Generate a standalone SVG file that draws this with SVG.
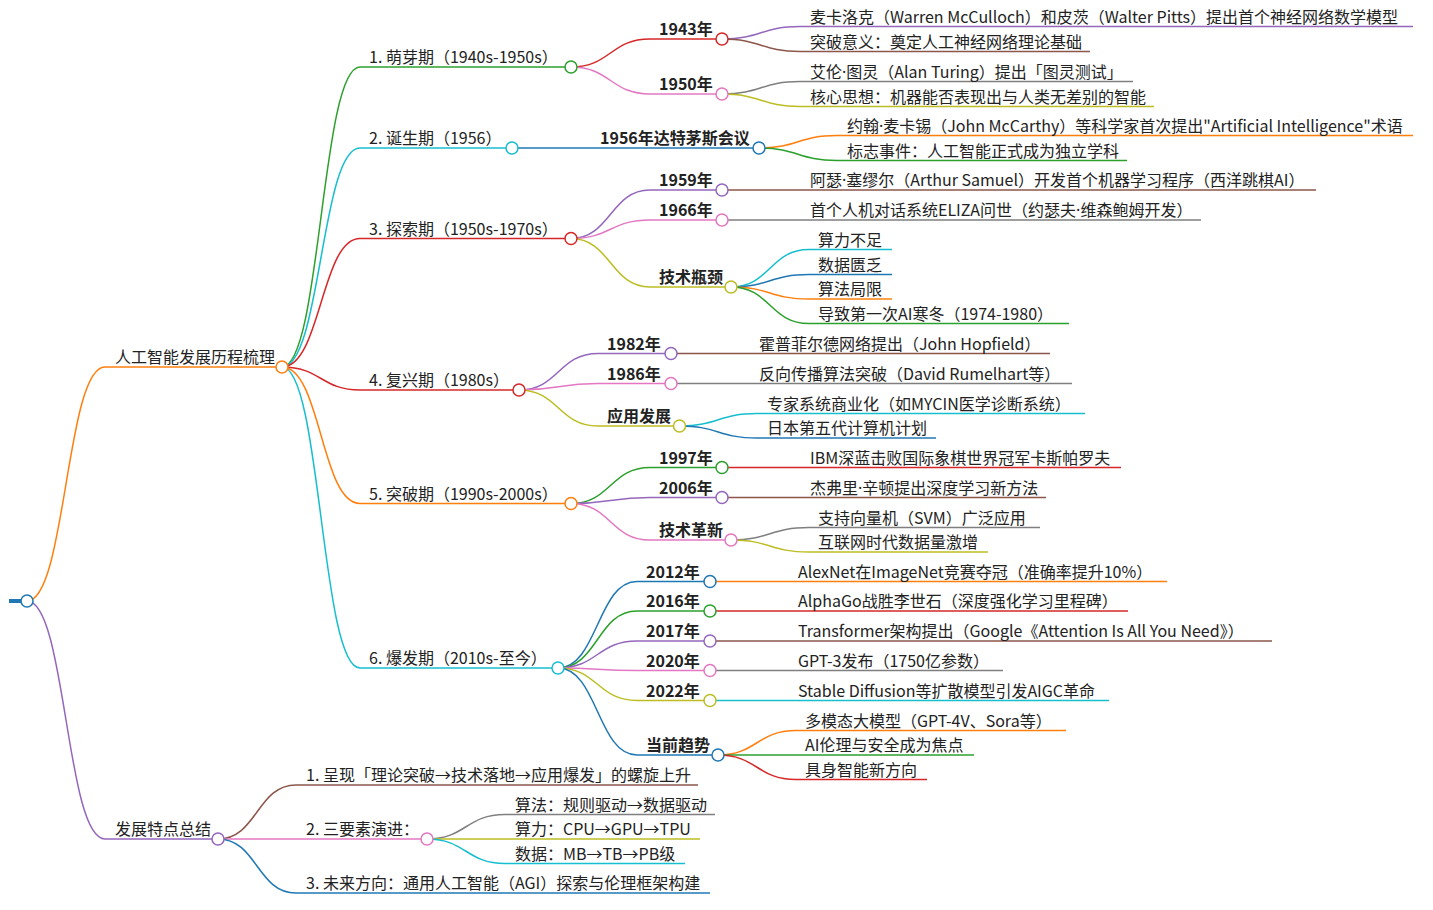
<svg xmlns="http://www.w3.org/2000/svg" width="1433" height="910" viewBox="0 0 1433 910">
<style>
.t{font-family:'Noto Sans CJK SC','Noto Sans',sans-serif;font-size:16px;fill:#222}
.d{font-family:'Noto Sans','Liberation Sans',sans-serif}
.b{font-weight:bold}
.l{fill:none;stroke-width:1.5}
.c{fill:#fff;stroke-width:1.5}
.blue{stroke:#1f77b4}.orange{stroke:#ff7f0e}.green{stroke:#2ca02c}.red{stroke:#d62728}.purple{stroke:#9467bd}
.brown{stroke:#8c564b}.pink{stroke:#e377c2}.gray{stroke:#7f7f7f}.olive{stroke:#bcbd22}.cyan{stroke:#17becf}
</style>
<rect width="1433" height="910" fill="#fff"/>
<g id="connectors">
<path class="l orange" d="M27,601 C66,601 66,367 105,367"/>
<path class="l purple" d="M27,601 C66,601 66,839 105,839"/>
<path class="l green" d="M282,367 C321,367 321,67 360,67"/>
<path class="l cyan" d="M282,367 C321,367 321,148 360,148"/>
<path class="l red" d="M282,367 C321,367 321,238.5 360,238.5"/>
<path class="l red" d="M282,367 C321,367 321,390 360,390"/>
<path class="l orange" d="M282,367 C321,367 321,503.5 360,503.5"/>
<path class="l cyan" d="M282,367 C321,367 321,668 360,668"/>
<path class="l red" d="M571,67 C610.5,67 610.5,39 650,39"/>
<path class="l pink" d="M571,67 C610.5,67 610.5,94 650,94"/>
<path class="l purple" d="M722,39 C761,39 761,26.5 800,26.5"/>
<path class="l brown" d="M722,39 C761,39 761,51.5 800,51.5"/>
<path class="l gray" d="M722,94 C761,94 761,81.5 800,81.5"/>
<path class="l olive" d="M722,94 C761,94 761,106.5 800,106.5"/>
<path class="l blue" d="M512,148 L590,148"/>
<path class="l orange" d="M759,148 C798,148 798,135.5 837,135.5"/>
<path class="l green" d="M759,148 C798,148 798,160.5 837,160.5"/>
<path class="l purple" d="M571,238.5 C610.5,238.5 610.5,190 650,190"/>
<path class="l pink" d="M571,238.5 C610.5,238.5 610.5,220 650,220"/>
<path class="l olive" d="M571,238.5 C610.5,238.5 610.5,287 650,287"/>
<path class="l brown" d="M722,190 L800,190"/>
<path class="l gray" d="M722,220 L800,220"/>
<path class="l cyan" d="M731,287 C770,287 770,249.5 809,249.5"/>
<path class="l blue" d="M731,287 C770,287 770,274.5 809,274.5"/>
<path class="l orange" d="M731,287 C770,287 770,299 809,299"/>
<path class="l green" d="M731,287 C770,287 770,323.5 809,323.5"/>
<path class="l purple" d="M519,390 C558.5,390 558.5,353.5 598,353.5"/>
<path class="l pink" d="M519,390 C558.5,390 558.5,383.5 598,383.5"/>
<path class="l olive" d="M519,390 C558.5,390 558.5,426 598,426"/>
<path class="l brown" d="M671,353.5 L749,353.5"/>
<path class="l gray" d="M671,383.5 L749,383.5"/>
<path class="l cyan" d="M679.5,426 C718.25,426 718.25,413.5 757,413.5"/>
<path class="l blue" d="M679.5,426 C718.25,426 718.25,438 757,438"/>
<path class="l green" d="M571,503.5 C610.5,503.5 610.5,467.5 650,467.5"/>
<path class="l purple" d="M571,503.5 C610.5,503.5 610.5,497.5 650,497.5"/>
<path class="l pink" d="M571,503.5 C610.5,503.5 610.5,540 650,540"/>
<path class="l red" d="M722,467.5 L800,467.5"/>
<path class="l brown" d="M722,497.5 L800,497.5"/>
<path class="l gray" d="M731,540 C770,540 770,527.5 809,527.5"/>
<path class="l olive" d="M731,540 C770,540 770,552 809,552"/>
<path class="l blue" d="M558,668 C597.5,668 597.5,581.5 637,581.5"/>
<path class="l green" d="M558,668 C597.5,668 597.5,611 637,611"/>
<path class="l purple" d="M558,668 C597.5,668 597.5,641 637,641"/>
<path class="l pink" d="M558,668 C597.5,668 597.5,670.5 637,670.5"/>
<path class="l olive" d="M558,668 C597.5,668 597.5,700.5 637,700.5"/>
<path class="l blue" d="M558,668 C597.5,668 597.5,755 637,755"/>
<path class="l orange" d="M710,581.5 L788,581.5"/>
<path class="l red" d="M710,611 L788,611"/>
<path class="l brown" d="M710,641 L788,641"/>
<path class="l gray" d="M710,670.5 L788,670.5"/>
<path class="l cyan" d="M710,700.5 L788,700.5"/>
<path class="l orange" d="M718,755 C757,755 757,730.5 796,730.5"/>
<path class="l green" d="M718,755 L796,755"/>
<path class="l red" d="M718,755 C757,755 757,779.5 796,779.5"/>
<path class="l brown" d="M218,839 C257,839 257,785 296,785"/>
<path class="l pink" d="M218,839 L296,839"/>
<path class="l blue" d="M218,839 C257,839 257,893 296,893"/>
<path class="l gray" d="M427,839 C466,839 466,814.5 505,814.5"/>
<path class="l olive" d="M427,839 L505,839"/>
<path class="l cyan" d="M427,839 C466,839 466,863.5 505,863.5"/>
</g>
<g id="root"><line x1="9" y1="601" x2="22" y2="601" stroke="#1f77b4" stroke-width="4"/><circle class="c blue" cx="27" cy="601" r="6"/></g>
<g id="n-main"><line class="l orange" x1="105" y1="367" x2="282" y2="367"/><circle class="c orange" cx="282" cy="367" r="6"/><text class="t" x="115" y="363">人工智能发展历程梳理</text></g>
<g id="n-summary"><line class="l purple" x1="105" y1="839" x2="218" y2="839"/><circle class="c purple" cx="218" cy="839" r="6"/><text class="t" x="115" y="835">发展特点总结</text></g>
<g id="n-p1"><line class="l green" x1="360" y1="67" x2="571" y2="67"/><circle class="c green" cx="571" cy="67" r="6"/><text class="t" x="369" y="63">1. 萌芽期（1940s-1950s）</text></g>
<g id="n-p2"><line class="l cyan" x1="360" y1="148" x2="512" y2="148"/><circle class="c cyan" cx="512" cy="148" r="6"/><text class="t" x="369" y="144">2. 诞生期（1956）</text></g>
<g id="n-p3"><line class="l red" x1="360" y1="238.5" x2="571" y2="238.5"/><circle class="c red" cx="571" cy="238.5" r="6"/><text class="t" x="369" y="234.5">3. 探索期（1950s-1970s）</text></g>
<g id="n-p4"><line class="l red" x1="360" y1="390" x2="519" y2="390"/><circle class="c red" cx="519" cy="390" r="6"/><text class="t" x="369" y="386">4. 复兴期（1980s）</text></g>
<g id="n-p5"><line class="l orange" x1="360" y1="503.5" x2="571" y2="503.5"/><circle class="c orange" cx="571" cy="503.5" r="6"/><text class="t" x="369" y="499.5">5. 突破期（1990s-2000s）</text></g>
<g id="n-p6"><line class="l cyan" x1="360" y1="668" x2="558" y2="668"/><circle class="c cyan" cx="558" cy="668" r="6"/><text class="t" x="369" y="664">6. 爆发期（2010s-至今）</text></g>
<g id="n-1943"><line class="l red" x1="650" y1="39" x2="722" y2="39"/><circle class="c red" cx="722" cy="39" r="6"/><text class="t b" x="659" y="35">1943年</text></g>
<g id="n-1943a"><line class="l purple" x1="800" y1="26.5" x2="1413" y2="26.5"/><text class="t" x="810" y="22.5">麦卡洛克（Warren McCulloch）和皮茨（Walter Pitts）提出首个神经网络数学模型</text></g>
<g id="n-1943b"><line class="l brown" x1="800" y1="51.5" x2="1090" y2="51.5"/><text class="t" x="810" y="47.5">突破意义：奠定人工神经网络理论基础</text></g>
<g id="n-1950"><line class="l pink" x1="650" y1="94" x2="722" y2="94"/><circle class="c pink" cx="722" cy="94" r="6"/><text class="t b" x="659" y="90">1950年</text></g>
<g id="n-1950a"><line class="l gray" x1="800" y1="81.5" x2="1133" y2="81.5"/><text class="t" x="810" y="77.5">艾伦<tspan class="d">·</tspan>图灵（Alan Turing）提出「图灵测试」</text></g>
<g id="n-1950b"><line class="l olive" x1="800" y1="106.5" x2="1154" y2="106.5"/><text class="t" x="810" y="102.5">核心思想：机器能否表现出与人类无差别的智能</text></g>
<g id="n-1956"><line class="l blue" x1="590" y1="148" x2="759" y2="148"/><circle class="c blue" cx="759" cy="148" r="6"/><text class="t b" x="600" y="144">1956年达特茅斯会议</text></g>
<g id="n-1956a"><line class="l orange" x1="837" y1="135.5" x2="1413" y2="135.5"/><text class="t" x="847" y="131.5">约翰<tspan class="d">·</tspan>麦卡锡（John McCarthy）等科学家首次提出"Artificial Intelligence"术语</text></g>
<g id="n-1956b"><line class="l green" x1="837" y1="160.5" x2="1127" y2="160.5"/><text class="t" x="847" y="156.5">标志事件：人工智能正式成为独立学科</text></g>
<g id="n-1959"><line class="l purple" x1="650" y1="190" x2="722" y2="190"/><circle class="c purple" cx="722" cy="190" r="6"/><text class="t b" x="659" y="186">1959年</text></g>
<g id="n-1959a"><line class="l brown" x1="800" y1="190" x2="1316" y2="190"/><text class="t" x="810" y="186">阿瑟<tspan class="d">·</tspan>塞缪尔（Arthur Samuel）开发首个机器学习程序（西洋跳棋AI）</text></g>
<g id="n-1966"><line class="l pink" x1="650" y1="220" x2="722" y2="220"/><circle class="c pink" cx="722" cy="220" r="6"/><text class="t b" x="659" y="216">1966年</text></g>
<g id="n-1966a"><line class="l gray" x1="800" y1="220" x2="1201" y2="220"/><text class="t" x="810" y="216">首个人机对话系统ELIZA问世（约瑟夫<tspan class="d">·</tspan>维森鲍姆开发）</text></g>
<g id="n-bottleneck"><line class="l olive" x1="650" y1="287" x2="731" y2="287"/><circle class="c olive" cx="731" cy="287" r="6"/><text class="t b" x="659" y="283">技术瓶颈</text></g>
<g id="n-bn1"><line class="l cyan" x1="809" y1="249.5" x2="892" y2="249.5"/><text class="t" x="818" y="245.5">算力不足</text></g>
<g id="n-bn2"><line class="l blue" x1="809" y1="274.5" x2="892" y2="274.5"/><text class="t" x="818" y="270.5">数据匮乏</text></g>
<g id="n-bn3"><line class="l orange" x1="809" y1="299" x2="892" y2="299"/><text class="t" x="818" y="295">算法局限</text></g>
<g id="n-bn4"><line class="l green" x1="809" y1="323.5" x2="1069" y2="323.5"/><text class="t" x="818" y="319.5">导致第一次AI寒冬（1974-1980）</text></g>
<g id="n-1982"><line class="l purple" x1="598" y1="353.5" x2="671" y2="353.5"/><circle class="c purple" cx="671" cy="353.5" r="6"/><text class="t b" x="607" y="349.5">1982年</text></g>
<g id="n-1982a"><line class="l brown" x1="749" y1="353.5" x2="1050" y2="353.5"/><text class="t" x="759" y="349.5">霍普菲尔德网络提出（John Hopfield）</text></g>
<g id="n-1986"><line class="l pink" x1="598" y1="383.5" x2="671" y2="383.5"/><circle class="c pink" cx="671" cy="383.5" r="6"/><text class="t b" x="607" y="379.5">1986年</text></g>
<g id="n-1986a"><line class="l gray" x1="749" y1="383.5" x2="1072" y2="383.5"/><text class="t" x="759" y="379.5">反向传播算法突破（David Rumelhart等）</text></g>
<g id="n-apps"><line class="l olive" x1="598" y1="426" x2="679.5" y2="426"/><circle class="c olive" cx="679.5" cy="426" r="6"/><text class="t b" x="607" y="422">应用发展</text></g>
<g id="n-apps1"><line class="l cyan" x1="757" y1="413.5" x2="1085" y2="413.5"/><text class="t" x="767" y="409.5">专家系统商业化（如MYCIN医学诊断系统）</text></g>
<g id="n-apps2"><line class="l blue" x1="757" y1="438" x2="936" y2="438"/><text class="t" x="767" y="434">日本第五代计算机计划</text></g>
<g id="n-1997"><line class="l green" x1="650" y1="467.5" x2="722" y2="467.5"/><circle class="c green" cx="722" cy="467.5" r="6"/><text class="t b" x="659" y="463.5">1997年</text></g>
<g id="n-1997a"><line class="l red" x1="800" y1="467.5" x2="1121" y2="467.5"/><text class="t" x="810" y="463.5">IBM深蓝击败国际象棋世界冠军卡斯帕罗夫</text></g>
<g id="n-2006"><line class="l purple" x1="650" y1="497.5" x2="722" y2="497.5"/><circle class="c purple" cx="722" cy="497.5" r="6"/><text class="t b" x="659" y="493.5">2006年</text></g>
<g id="n-2006a"><line class="l brown" x1="800" y1="497.5" x2="1046" y2="497.5"/><text class="t" x="810" y="493.5">杰弗里<tspan class="d">·</tspan>辛顿提出深度学习新方法</text></g>
<g id="n-innov"><line class="l pink" x1="650" y1="540" x2="731" y2="540"/><circle class="c pink" cx="731" cy="540" r="6"/><text class="t b" x="659" y="536">技术革新</text></g>
<g id="n-innov1"><line class="l gray" x1="809" y1="527.5" x2="1040" y2="527.5"/><text class="t" x="818" y="523.5">支持向量机（SVM）广泛应用</text></g>
<g id="n-innov2"><line class="l olive" x1="809" y1="552" x2="988" y2="552"/><text class="t" x="818" y="548">互联网时代数据量激增</text></g>
<g id="n-2012"><line class="l blue" x1="637" y1="581.5" x2="710" y2="581.5"/><circle class="c blue" cx="710" cy="581.5" r="6"/><text class="t b" x="646" y="577.5">2012年</text></g>
<g id="n-2012a"><line class="l orange" x1="788" y1="581.5" x2="1167" y2="581.5"/><text class="t" x="798" y="577.5">AlexNet在ImageNet竞赛夺冠（准确率提升10%）</text></g>
<g id="n-2016"><line class="l green" x1="637" y1="611" x2="710" y2="611"/><circle class="c green" cx="710" cy="611" r="6"/><text class="t b" x="646" y="607">2016年</text></g>
<g id="n-2016a"><line class="l red" x1="788" y1="611" x2="1128" y2="611"/><text class="t" x="798" y="607">AlphaGo战胜李世石（深度强化学习里程碑）</text></g>
<g id="n-2017"><line class="l purple" x1="637" y1="641" x2="710" y2="641"/><circle class="c purple" cx="710" cy="641" r="6"/><text class="t b" x="646" y="637">2017年</text></g>
<g id="n-2017a"><line class="l brown" x1="788" y1="641" x2="1272" y2="641"/><text class="t" x="798" y="637">Transformer架构提出（Google《Attention Is All You Need》）</text></g>
<g id="n-2020"><line class="l pink" x1="637" y1="670.5" x2="710" y2="670.5"/><circle class="c pink" cx="710" cy="670.5" r="6"/><text class="t b" x="646" y="666.5">2020年</text></g>
<g id="n-2020a"><line class="l gray" x1="788" y1="670.5" x2="1003" y2="670.5"/><text class="t" x="798" y="666.5">GPT-3发布（1750亿参数）</text></g>
<g id="n-2022"><line class="l olive" x1="637" y1="700.5" x2="710" y2="700.5"/><circle class="c olive" cx="710" cy="700.5" r="6"/><text class="t b" x="646" y="696.5">2022年</text></g>
<g id="n-2022a"><line class="l cyan" x1="788" y1="700.5" x2="1109" y2="700.5"/><text class="t" x="798" y="696.5">Stable Diffusion等扩散模型引发AIGC革命</text></g>
<g id="n-trend"><line class="l blue" x1="637" y1="755" x2="718" y2="755"/><circle class="c blue" cx="718" cy="755" r="6"/><text class="t b" x="646" y="751">当前趋势</text></g>
<g id="n-trend1"><line class="l orange" x1="796" y1="730.5" x2="1066" y2="730.5"/><text class="t" x="805" y="726.5">多模态大模型（GPT-4V、Sora等）</text></g>
<g id="n-trend2"><line class="l green" x1="796" y1="755" x2="974" y2="755"/><text class="t" x="805" y="751">AI伦理与安全成为焦点</text></g>
<g id="n-trend3"><line class="l red" x1="796" y1="779.5" x2="927" y2="779.5"/><text class="t" x="805" y="775.5">具身智能新方向</text></g>
<g id="n-s1"><line class="l brown" x1="296" y1="785" x2="698" y2="785"/><text class="t" x="306" y="781">1. 呈现「理论突破→技术落地→应用爆发」的螺旋上升</text></g>
<g id="n-s2"><line class="l pink" x1="296" y1="839" x2="427" y2="839"/><circle class="c pink" cx="427" cy="839" r="6"/><text class="t" x="306" y="835">2. 三要素演进：</text></g>
<g id="n-s2a"><line class="l gray" x1="505" y1="814.5" x2="715" y2="814.5"/><text class="t" x="515" y="810.5">算法：规则驱动→数据驱动</text></g>
<g id="n-s2b"><line class="l olive" x1="505" y1="839" x2="700" y2="839"/><text class="t" x="515" y="835">算力：CPU→GPU→TPU</text></g>
<g id="n-s2c"><line class="l cyan" x1="505" y1="863.5" x2="685" y2="863.5"/><text class="t" x="515" y="859.5">数据：MB→TB→PB级</text></g>
<g id="n-s3"><line class="l blue" x1="296" y1="893" x2="710" y2="893"/><text class="t" x="306" y="889">3. 未来方向：通用人工智能（AGI）探索与伦理框架构建</text></g>
</svg>
